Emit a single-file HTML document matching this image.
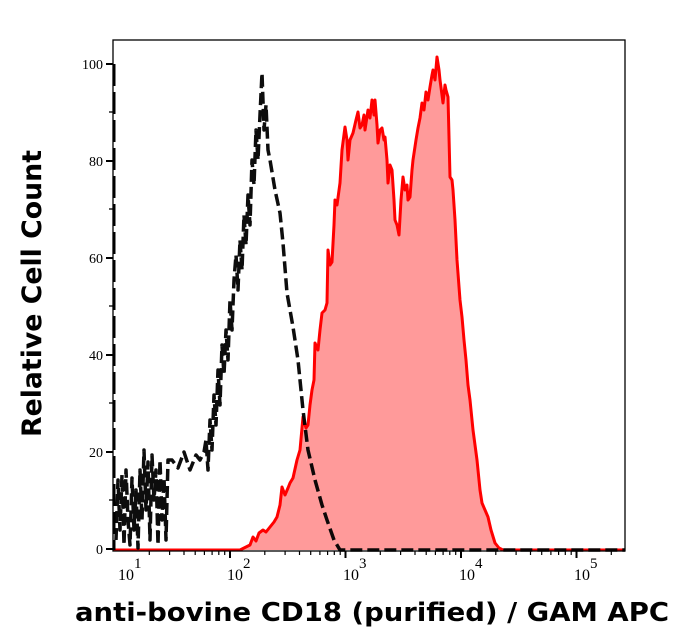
<!DOCTYPE html>
<html><head><meta charset="utf-8"><style>html,body{margin:0;padding:0;background:#fff}svg{display:block}</style></head>
<body>
<svg width="690" height="641" viewBox="0 0 690 641" xmlns="http://www.w3.org/2000/svg">
<rect width="690" height="641" fill="#fff"/>
<polygon fill="#ff9a9a" stroke="none" points="113,550 240,550 250,545 253,537 256,541 259,533 263,530 266,532 270,527 274,522 277,517 280,505 282,487 285,495 288,488 290,483 293,478 297,460 300,450 303,417 306,428 308,425 310,405 312,390 314,380 315,343 318,350 320,330 322,313 325,310 327,303 328,250 330,265 332,262 334,225 335,200 337,205 340,183 342,150 345,127 347,140 348,160 350,140 353,133 356,120 358,112 360,128 362,125 364,115 365,130 368,110 370,118 372,100 374,115 375,100 377,125 378,143 380,130 382,128 384,140 385,137 387,160 388,183 390,165 392,170 394,200 395,220 397,225 399,235 401,200 403,177 405,190 407,185 408,200 410,197 412,170 413,160 416,140 418,128 420,118 422,103 424,110 426,92 428,100 430,87 432,75 433,70 435,80 437,57 439,70 440,80 442,95 443,103 445,85 446,90 448,97 450,177 452,180 453,190 455,220 457,260 460,300 462,317 464,340 466,360 468,385 470,400 473,430 477,460 480,490 482,503 485,510 488,517 491,530 495,543 499,548 503,550 625,550"/>
<polyline fill="none" stroke="#ff0000" stroke-width="3" stroke-linejoin="round" points="113,550 240,550 250,545 253,537 256,541 259,533 263,530 266,532 270,527 274,522 277,517 280,505 282,487 285,495 288,488 290,483 293,478 297,460 300,450 303,417 306,428 308,425 310,405 312,390 314,380 315,343 318,350 320,330 322,313 325,310 327,303 328,250 330,265 332,262 334,225 335,200 337,205 340,183 342,150 345,127 347,140 348,160 350,140 353,133 356,120 358,112 360,128 362,125 364,115 365,130 368,110 370,118 372,100 374,115 375,100 377,125 378,143 380,130 382,128 384,140 385,137 387,160 388,183 390,165 392,170 394,200 395,220 397,225 399,235 401,200 403,177 405,190 407,185 408,200 410,197 412,170 413,160 416,140 418,128 420,118 422,103 424,110 426,92 428,100 430,87 432,75 433,70 435,80 437,57 439,70 440,80 442,95 443,103 445,85 446,90 448,97 450,177 452,180 453,190 455,220 457,260 460,300 462,317 464,340 466,360 468,385 470,400 473,430 477,460 480,490 482,503 485,510 488,517 491,530 495,543 499,548 503,550 625,550"/>
<line x1="114" y1="64" x2="114" y2="550" stroke="#000" stroke-width="3" stroke-dasharray="22,6"/>
<polyline fill="none" stroke="#000" stroke-width="3.5" stroke-dasharray="12,5" stroke-linejoin="round" opacity="0.95" points="116,540 118,480 120,530 122,475 124,545 126,470 128,520 130,545 132,478 134,530 136,490 138,548 140,470 142,520 144,450 146,510 148,462 150,540 152,455 154,500 156,470 158,545 160,460 162,520 164,478 166,540 168,460 172,460 178,468 184,452 190,470 196,455 200,460 204,452 206,440 208,470 210,420 212,450 214,395 216,425 218,370 220,405 222,345 224,375 226,330 228,360 230,300 232,330 234,280 236,255 238,290 240,240 242,270 244,215 246,245 248,195 250,225 252,160 254,185 256,130 258,160 260,115 262,73 264,130 266,105 268,150 270,160 275,190 280,213 283,243 287,293 293,327 298,360 303,410 308,450 315,480 322,505 327,520 334,540 340,550 625,550"/>
<rect x="113" y="40" width="512" height="511" fill="none" stroke="#000" stroke-width="1.3"/>
<g stroke="#000" stroke-width="2">
<line x1="106" y1="549" x2="113" y2="549"/><line x1="106" y1="452" x2="113" y2="452"/><line x1="106" y1="355" x2="113" y2="355"/><line x1="106" y1="258" x2="113" y2="258"/><line x1="106" y1="161" x2="113" y2="161"/><line x1="106" y1="64" x2="113" y2="64"/>
</g>
<g stroke="#000" stroke-width="1.3">
<line x1="109" y1="500" x2="113" y2="500"/><line x1="109" y1="403" x2="113" y2="403"/><line x1="109" y1="306" x2="113" y2="306"/><line x1="109" y1="209" x2="113" y2="209"/><line x1="109" y1="112" x2="113" y2="112"/>
</g>
<g font-family="'Liberation Serif',serif" font-size="14" text-anchor="end" fill="#000">
<text x="103" y="554">0</text><text x="103" y="457">20</text><text x="103" y="360">40</text><text x="103" y="263">60</text><text x="103" y="166">80</text><text x="103" y="69">100</text>
</g>
<g stroke="#000" stroke-width="2">
<line x1="230" y1="551" x2="230" y2="558"/><line x1="345.5" y1="551" x2="345.5" y2="558"/><line x1="461" y1="551" x2="461" y2="558"/><line x1="576.5" y1="551" x2="576.5" y2="558"/>
</g>
<g stroke="#000" stroke-width="1.2">
<line x1="149.3" y1="551" x2="149.3" y2="555"/><line x1="169.6" y1="551" x2="169.6" y2="555"/><line x1="184" y1="551" x2="184" y2="555"/><line x1="195.2" y1="551" x2="195.2" y2="555"/><line x1="204.4" y1="551" x2="204.4" y2="555"/><line x1="212.1" y1="551" x2="212.1" y2="555"/><line x1="218.8" y1="551" x2="218.8" y2="555"/><line x1="224.7" y1="551" x2="224.7" y2="555"/>
<line x1="264.8" y1="551" x2="264.8" y2="555"/><line x1="285.1" y1="551" x2="285.1" y2="555"/><line x1="299.5" y1="551" x2="299.5" y2="555"/><line x1="310.7" y1="551" x2="310.7" y2="555"/><line x1="319.9" y1="551" x2="319.9" y2="555"/><line x1="327.6" y1="551" x2="327.6" y2="555"/><line x1="334.3" y1="551" x2="334.3" y2="555"/><line x1="340.2" y1="551" x2="340.2" y2="555"/>
<line x1="380.3" y1="551" x2="380.3" y2="555"/><line x1="400.6" y1="551" x2="400.6" y2="555"/><line x1="415" y1="551" x2="415" y2="555"/><line x1="426.2" y1="551" x2="426.2" y2="555"/><line x1="435.4" y1="551" x2="435.4" y2="555"/><line x1="443.1" y1="551" x2="443.1" y2="555"/><line x1="449.8" y1="551" x2="449.8" y2="555"/><line x1="455.7" y1="551" x2="455.7" y2="555"/>
<line x1="495.8" y1="551" x2="495.8" y2="555"/><line x1="516.1" y1="551" x2="516.1" y2="555"/><line x1="530.5" y1="551" x2="530.5" y2="555"/><line x1="541.7" y1="551" x2="541.7" y2="555"/><line x1="550.9" y1="551" x2="550.9" y2="555"/><line x1="558.6" y1="551" x2="558.6" y2="555"/><line x1="565.3" y1="551" x2="565.3" y2="555"/><line x1="571.2" y1="551" x2="571.2" y2="555"/>
<line x1="611.3" y1="551" x2="611.3" y2="555"/>
</g>
<g font-family="'Liberation Serif',serif" font-size="16" fill="#000">
<text x="118" y="580">10</text><text x="134" y="568" font-size="15">1</text>
<text x="227" y="580">10</text><text x="243" y="568" font-size="15">2</text>
<text x="343" y="580">10</text><text x="359" y="568" font-size="15">3</text>
<text x="459" y="580">10</text><text x="475" y="568" font-size="15">4</text>
<text x="574" y="580">10</text><text x="590" y="568" font-size="15">5</text>
</g>
<text x="75" y="621" font-family="'DejaVu Sans',sans-serif" font-weight="bold" font-size="26" textLength="594" lengthAdjust="spacingAndGlyphs" fill="#000">anti-bovine CD18 (purified) / GAM APC</text>
<text transform="translate(41,437) rotate(-90)" x="0" y="0" font-family="'DejaVu Sans',sans-serif" font-weight="bold" font-size="27" textLength="287" lengthAdjust="spacingAndGlyphs" fill="#000">Relative Cell Count</text>
</svg>
</body></html>
